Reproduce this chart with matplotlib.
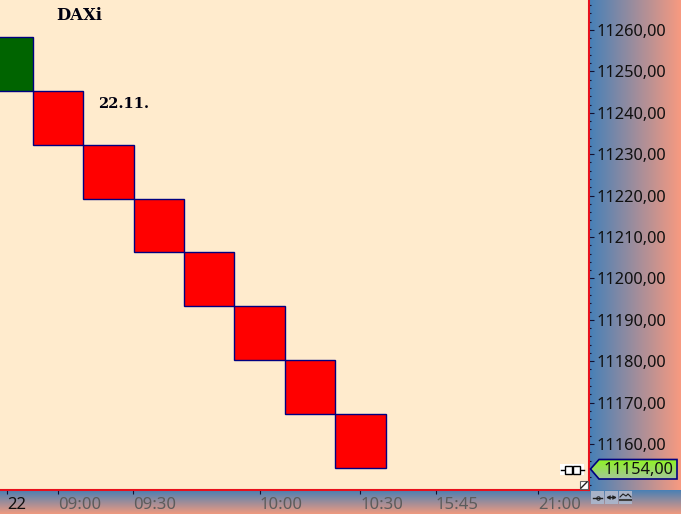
import numpy as np
import matplotlib
matplotlib.use("Agg")
import matplotlib.pyplot as plt
from matplotlib.colors import LinearSegmentedColormap
from matplotlib.patches import Polygon, Rectangle

# renko bricks, 13 points each
bar_pos = [-1, 0, 1, 2, 3, 4, 5, 6]
bar_open = [11245.3, 11245.3, 11232.2, 11219.2, 11206.3, 11193.3, 11180.3, 11167.3]
bar_close = [11258.3, 11232.2, 11219.2, 11206.3, 11193.3, 11180.3, 11167.3, 11154.2]

price_ticks = [11160, 11170, 11180, 11190, 11200, 11210, 11220, 11230, 11240, 11250, 11260]
price_labels = ["11160,00", "11170,00", "11180,00", "11190,00", "11200,00", "11210,00",
                "11220,00", "11230,00", "11240,00", "11250,00", "11260,00"]
time_ticks = [-1.01, 0, 1.49, 4, 6, 7.5, 9.52]
time_labels = ["22", "09:00", "09:30", "10:00", "10:30", "15:45", "21:00"]
last_price = "11154,00"

W, H = 681, 514
BG = "#ffebcd"
NAVY = "#000080"
FONT = "Noto Sans"


def box(x0, y0, x1, y1):
    # pixel box (top-left origin) to figure fractions
    return [x0 / W, 1 - y1 / H, (x1 - x0) / W, (y1 - y0) / H]


fig = plt.figure(figsize=(W / 100, H / 100), dpi=100, facecolor=BG)

# gradient strips behind the price and time scales
side_cmap = LinearSegmentedColormap.from_list("side", ["#4580b8", "#f89a80"])
bot_cmap = LinearSegmentedColormap.from_list("bot", ["#4a80b4", "#ee9a80"])
side = fig.add_axes(box(589, 0, 681, 490))
side.imshow(np.linspace(0, 1, 256).reshape(1, -1), cmap=side_cmap, aspect="auto")
side.axis("off")
bot = fig.add_axes(box(0, 490, 681, 514))
bot.imshow(np.linspace(0, 1, 64).reshape(-1, 1), cmap=bot_cmap, aspect="auto")
bot.axis("off")

ax = fig.add_axes(box(0, 0, 589, 490), zorder=5)
ax.set_facecolor(BG)

for x, o, c in zip(bar_pos, bar_open, bar_close):
    color = "#006400" if c > o else "#ff0000"
    ax.bar(x, abs(c - o), bottom=min(o, c), width=1.0, color=color, edgecolor=NAVY, linewidth=1, zorder=3)

ax.set_xlim(-1.151, 10.535)
# 11260 sits at y=30 and 11160 at y=444, 4.14 px a point
ax.set_ylim(11260 - (490 - 30) / 4.14, 11260 + 30 / 4.14)

for name in ["top", "left"]:
    ax.spines[name].set_visible(False)
for name in ["right", "bottom"]:
    ax.spines[name].set_color("#e8101c")
    ax.spines[name].set_linewidth(1.5)

ax.yaxis.tick_right()
ax.set_yticks(price_ticks)
ax.set_yticklabels(price_labels, fontsize=11.8, family=FONT, color="#101010")
ax.set_yticks(np.arange(11150, 11268, 2), minor=True)
ax.tick_params(axis="y", which="major", length=3.5, width=0.8, color="#101030", pad=2)
ax.tick_params(axis="y", which="minor", length=1.6, width=0.8, color="#101030")

ax.set_xticks(time_ticks)
ax.set_xticklabels(time_labels, fontsize=12, family=FONT, color="#5c5c5c", ha="left")
ax.get_xticklabels()[0].set_color("#101010")
ax.tick_params(axis="x", length=3, width=0.8, color="#101030", pad=2.2)

# overlay in pixel coordinates for the title texts and the little widgets
ov = fig.add_axes([0, 0, 1, 1], zorder=10)
ov.axis("off")
ov.text(56, 15.5, "DAXi", family="DejaVu Serif", weight="bold", fontsize=11.8, color="#000010", va="center")
ov.text(98, 104, "22.11.", family="DejaVu Serif", weight="bold", fontsize=10.5, color="#000010", va="center")

# last price tag, gradient runs top to bottom
tag_xy = [(590.5, 469), (599, 459.5), (677, 459.5), (677, 479), (599, 479)]
tag_cmap = LinearSegmentedColormap.from_list("tag", ["#8ef51e", "#a4c69a"])
img = ov.imshow(np.linspace(0, 1, 64).reshape(-1, 1), cmap=tag_cmap, aspect="auto",
                extent=(590, 677, 479, 459), zorder=3)
ov.set_xlim(0, W)
ov.set_ylim(H, 0)
img.set_clip_path(Polygon(tag_xy, closed=True, transform=ov.transData))
ov.add_patch(Polygon(tag_xy, closed=True, facecolor="none", edgecolor=NAVY, linewidth=1.2, zorder=4))
ov.text(603, 469.5, last_price, family=FONT, fontsize=11.8, color="#101010", va="center", zorder=5)

# plug symbol next to the tag
ov.add_patch(Rectangle((560, 464), 24, 11, facecolor="white", edgecolor="none", zorder=2))
ov.plot([561, 565], [470, 470], color="black", lw=1, zorder=3)
ov.plot([580, 584], [470, 470], color="black", lw=1, zorder=3)
ov.add_patch(Rectangle((565, 466), 7, 8, facecolor="white", edgecolor="black", lw=1, zorder=3))
ov.add_patch(Rectangle((573, 466), 7, 8, facecolor="white", edgecolor="black", lw=1, zorder=3))

# resize corner
ov.add_patch(Rectangle((580, 481), 8, 8, facecolor="white", edgecolor="#606060", lw=0.8, zorder=3))
ov.plot([581, 587], [488, 482], color="#202020", lw=1, zorder=4)

# the three buttons under the price scale
for x0 in [591, 605, 619]:
    ov.add_patch(Rectangle((x0, 491), 13, 13, facecolor="#a9b3c8", edgecolor="none", zorder=3))
ov.plot([593, 602], [497.5, 497.5], color="#202020", lw=1, zorder=4)
ov.plot([597.5], [497.5], marker="o", ms=2.5, mfc="none", mec="#202020", mew=0.7, zorder=4)
ov.annotate("", (617, 497.5), (606, 497.5), zorder=4,
            arrowprops=dict(arrowstyle="<->", lw=1, color="#202020", mutation_scale=5, shrinkA=0, shrinkB=0))
ov.plot([620, 623, 626, 628, 631], [497, 494, 496, 494, 497], color="#202020", lw=0.8, zorder=4)
ov.plot([620, 631], [500, 500], color="#404040", lw=1.5, zorder=4)

fig.savefig("out.png", dpi=100, facecolor=BG)
